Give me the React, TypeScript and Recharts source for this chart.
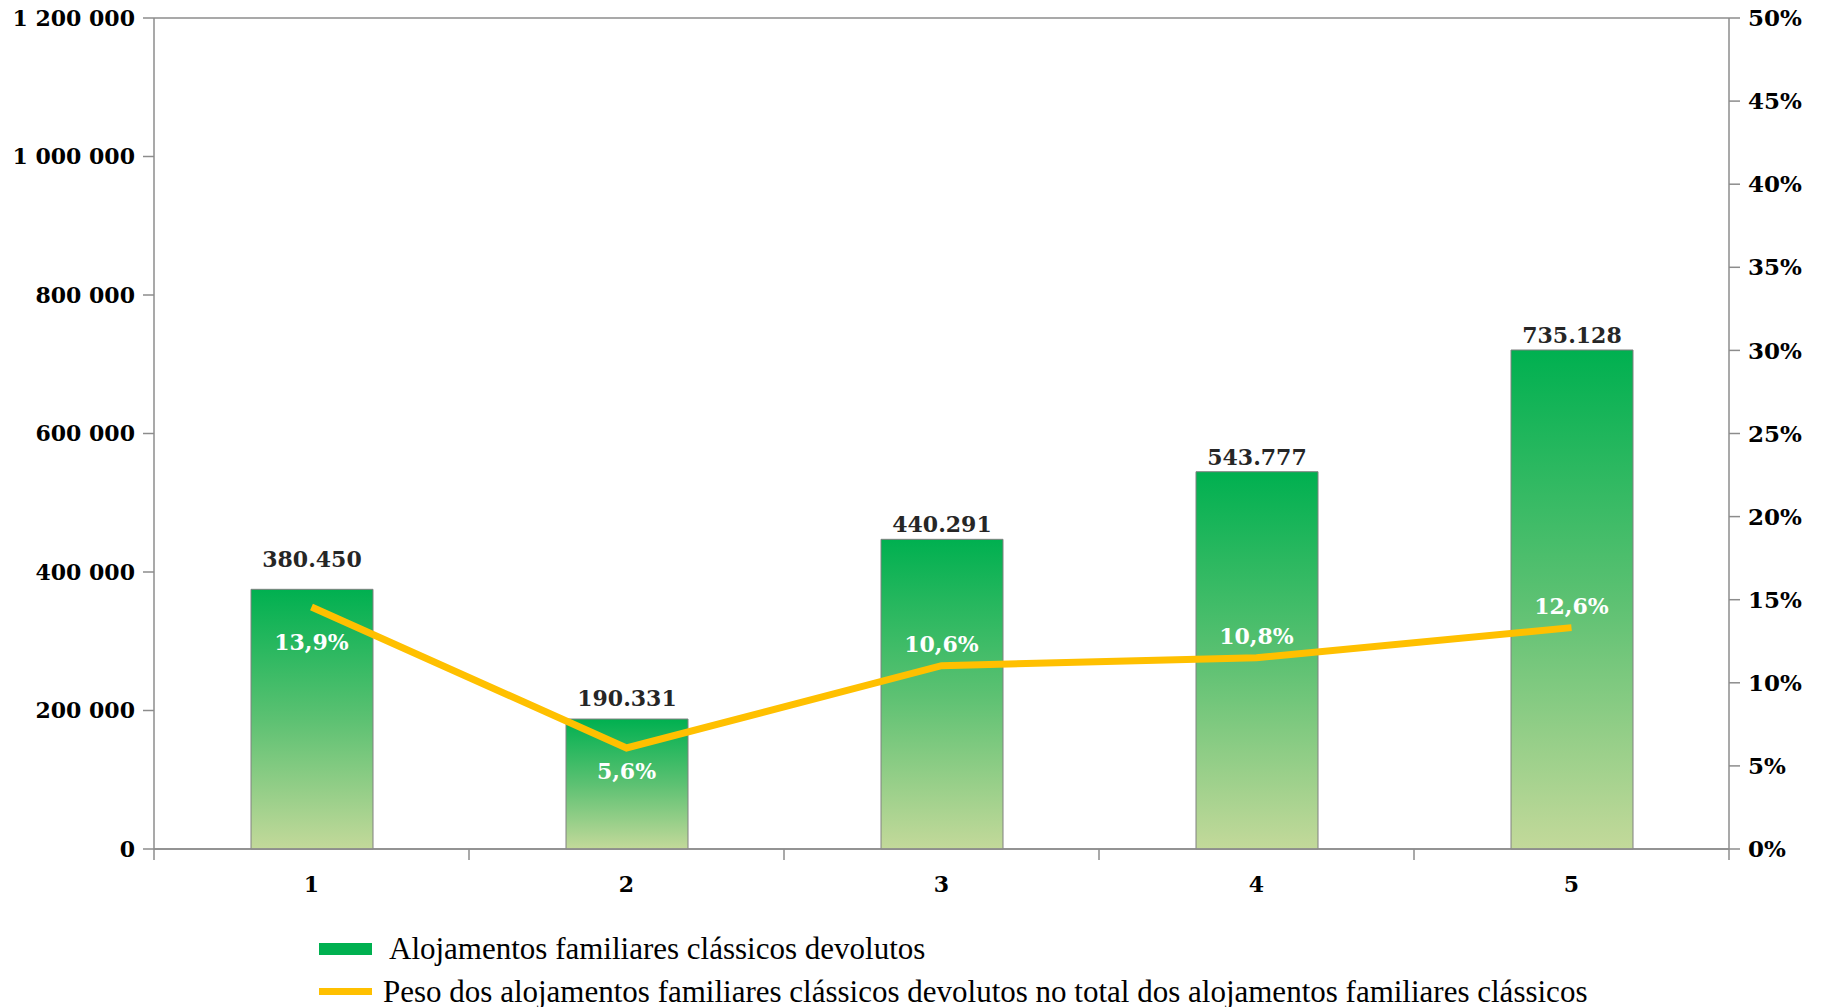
import {
  ComposedChart, Bar, Line, XAxis, YAxis, CartesianGrid, Legend, LabelList,
} from 'recharts';

// categorias (anos / períodos numerados no original)
const categories = ['1', '2', '3', '4', '5'];

// altura das barras
const devolutos = [375000, 187700, 447200, 544800, 720600];
// etiquetas escritas por cima das barras
const devolutosLabels = ['380.450', '190.331', '440.291', '543.777', '735.128'];

const peso = [0.1456, 0.0608, 0.1103, 0.1151, 0.1332];
const pesoLabels = ['13,9%', '5,6%', '10,6%', '10,8%', '12,6%'];

const leftTicks = [0, 200000, 400000, 600000, 800000, 1000000, 1200000];
const rightTicks = [0, 0.05, 0.1, 0.15, 0.2, 0.25, 0.3, 0.35, 0.4, 0.45, 0.5];

const seriesNames = [
  'Alojamentos familiares clássicos devolutos',
  'Peso dos alojamentos familiares clássicos devolutos no total dos alojamentos familiares clássicos',
];

const data = categories.map((c, i) => ({
  cat: c,
  devolutos: devolutos[i],
  peso: peso[i],
  devLabel: devolutosLabels[i],
  pesoLabel: pesoLabels[i],
}));

const AXIS_FONT = '"DejaVu Serif", serif';
const GRID = '#8c8c8c';

function fmtThousands(v: number) {
  return String(v).replace(/\B(?=(\d{3})+(?!\d))/g, ' ');
}

function CatTick(props: any) {
  const { x, y, payload, index, width } = props;
  const step = (width || 1575) / categories.length;
  const left = x - step / 2;
  return (
    <g>
      <line x1={left} x2={left} y1={y} y2={y + 11} stroke={GRID} strokeWidth={1.5} />
      {index === categories.length - 1 && (
        <line x1={x + step / 2} x2={x + step / 2} y1={y} y2={y + 11} stroke={GRID} strokeWidth={1.5} />
      )}
      <text x={x} y={y + 43} textAnchor="middle" fontFamily={AXIS_FONT} fontWeight="bold" fontSize={22} fill="#000">
        {payload.value}
      </text>
    </g>
  );
}

function BarValueLabel(props: any) {
  const { x, y, width, index } = props;
  // distância ao topo da barra não é igual em todas no original
  const gap = index === 0 ? 22 : index === 1 ? 13 : 7;
  return (
    <text x={x + width / 2} y={y - gap} textAnchor="middle" fontFamily={AXIS_FONT} fontWeight="bold" fontSize={22} fill="#262626">
      {devolutosLabels[index]}
    </text>
  );
}

function PesoLabel(props: any) {
  const { x, y, index } = props;
  // os dois primeiros ficam por baixo da linha, os restantes por cima
  const dy = index === 0 ? 43 : index === 1 ? 31 : -14;
  return (
    <text x={x} y={y + dy} textAnchor="middle" fontFamily={AXIS_FONT} fontWeight="bold" fontSize={22} fill="#ffffff">
      {pesoLabels[index]}
    </text>
  );
}

function LegendBox() {
  return (
    <div style={{ fontFamily: '"Liberation Serif", serif', fontSize: 31, color: '#000' }}>
      <div style={{ display: 'flex', alignItems: 'center', height: 43 }}>
        <span style={{ display: 'inline-block', width: 53, height: 12, background: '#00b050' }} />
        <span style={{ marginLeft: 17, whiteSpace: 'nowrap' }}>{seriesNames[0]}</span>
      </div>
      <div style={{ display: 'flex', alignItems: 'center', height: 43 }}>
        <span style={{ display: 'inline-block', width: 53, height: 7, background: '#ffc000' }} />
        <span style={{ marginLeft: 11, whiteSpace: 'nowrap' }}>{seriesNames[1]}</span>
      </div>
    </div>
  );
}

export default function App() {
  return (
    <div style={{ position: 'absolute', left: 0, top: 0, width: 1822, height: 1007, overflow: 'hidden', background: '#fff' }}>
      <ComposedChart
        width={1822}
        height={1007}
        data={data}
        margin={{ top: 18, right: 0, left: 0, bottom: 118 }}
      >
        <defs>
          <linearGradient id="barGrad" x1="0" y1="0" x2="0" y2="1">
            <stop offset="0%" stopColor="#00b050" />
            <stop offset="50%" stopColor="#5cc172" />
            <stop offset="100%" stopColor="#c3d99a" />
          </linearGradient>
        </defs>
        <CartesianGrid vertical={false} horizontal stroke={GRID} strokeWidth={1.5} />
        <XAxis
          dataKey="cat"
          height={40}
          tickLine={false}
          tickSize={0}
          tickMargin={0}
          axisLine={{ stroke: GRID, strokeWidth: 1.5 }}
          tick={<CatTick />}
          interval={0}
        />
        <YAxis
          yAxisId="left"
          width={154}
          domain={[0, 1200000]}
          ticks={leftTicks}
          interval={0}
          tickFormatter={fmtThousands}
          tickSize={11}
          tickMargin={8}
          axisLine={{ stroke: GRID, strokeWidth: 1.5 }}
          tickLine={{ stroke: GRID, strokeWidth: 1.5 }}
          tick={{ fontFamily: AXIS_FONT, fontWeight: 'bold', fontSize: 22, fill: '#000' }}
        />
        <YAxis
          yAxisId="right"
          orientation="right"
          width={93}
          domain={[0, 0.5]}
          ticks={rightTicks}
          interval={0}
          tickFormatter={(v: number) => `${Math.round(v * 100)}%`}
          tickSize={11}
          tickMargin={8}
          axisLine={{ stroke: GRID, strokeWidth: 1.5 }}
          tickLine={{ stroke: GRID, strokeWidth: 1.5 }}
          tick={{ fontFamily: AXIS_FONT, fontWeight: 'bold', fontSize: 23, fill: '#000' }}
        />
        <Legend
          layout="vertical"
          align="center"
          verticalAlign="middle"
          wrapperStyle={{ top: 927, left: 319, width: 1480 }}
          content={<LegendBox />}
        />
        <Bar
          yAxisId="left"
          dataKey="devolutos"
          name={seriesNames[0]}
          barSize={122}
          fill="url(#barGrad)"
          stroke="#808080"
          strokeWidth={1}
          isAnimationActive={false}
        >
          <LabelList dataKey="devLabel" content={<BarValueLabel />} />
        </Bar>
        <Line
          yAxisId="right"
          dataKey="peso"
          name={seriesNames[1]}
          type="linear"
          stroke="#ffc000"
          strokeWidth={7}
          dot={false}
          activeDot={false}
          isAnimationActive={false}
        >
          <LabelList dataKey="pesoLabel" content={<PesoLabel />} />
        </Line>
      </ComposedChart>
    </div>
  );
}
